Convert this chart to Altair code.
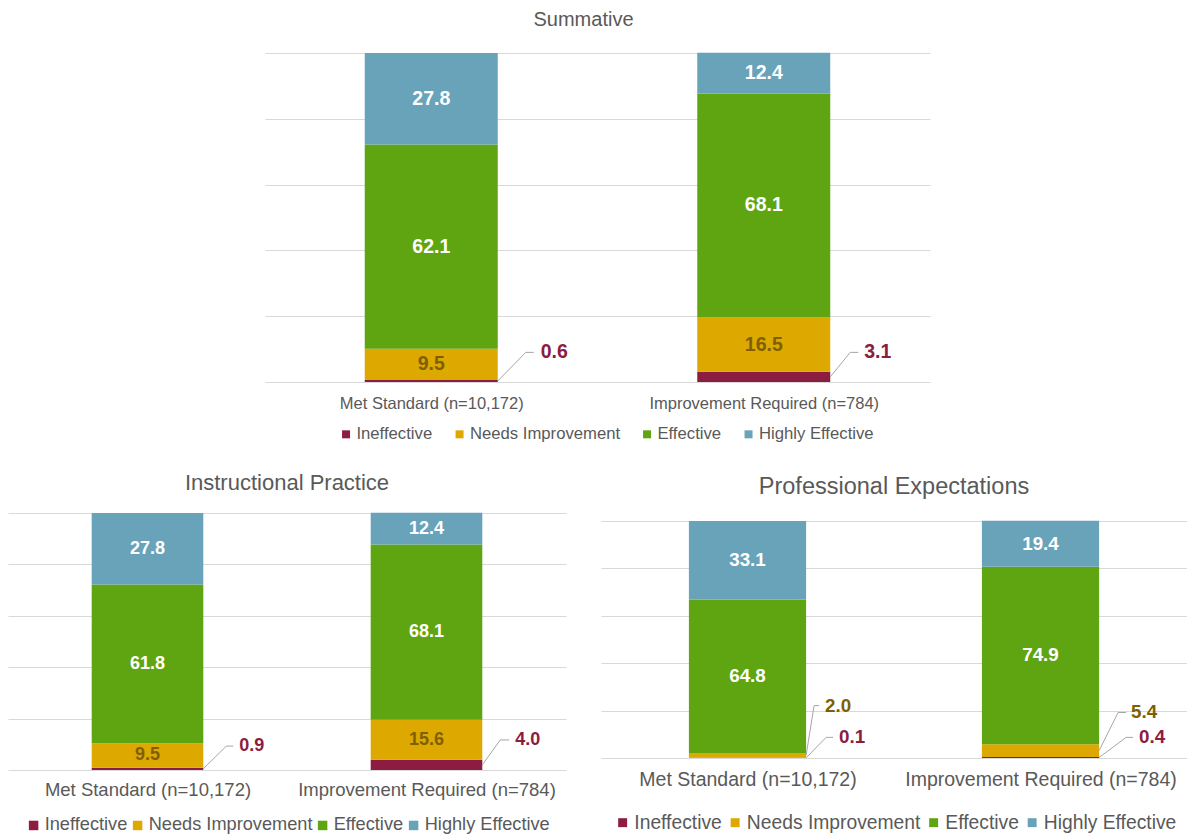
import altair as alt
import pandas as pd

# Rating categories (stack order, bottom to top) and the two teacher groups
LEVELS = ["Ineffective", "Needs Improvement", "Effective", "Highly Effective"]
GROUPS = ["Met Standard (n=10,172)", "Improvement Required (n=784)"]

# Percent of teachers in each rating, per group
SUMMATIVE_MET = [0.6, 9.5, 62.1, 27.8]
SUMMATIVE_IR = [3.1, 16.5, 68.1, 12.4]
INSTRUCTIONAL_MET = [0.9, 9.5, 61.8, 27.8]
INSTRUCTIONAL_IR = [4.0, 15.6, 68.1, 12.4]
PROFESSIONAL_MET = [0.1, 2.0, 64.8, 33.1]
PROFESSIONAL_IR = [0.4, 5.4, 74.9, 19.4]

BAR_COLORS = ["#8C1C40", "#DDA800", "#5FA511", "#68A3BA"]
INSIDE_TEXT = {"Needs Improvement": "#7F6000", "Effective": "#FFFFFF",
               "Highly Effective": "#FFFFFF"}
CALLOUT_TEXT = {"Ineffective": "#8C1C40", "Needs Improvement": "#7F6000"}
GRAY = "#595959"
GRID = "#D9D9D9"
LEADER = "#A6A6A6"
FONT = "Liberation Sans"

# Thin segments get an outside label with a leader line:
# (group index, level, label height in %, elbow px, shelf end px, label start px)
SUMMATIVE_CALLOUTS = [(0, "Ineffective", 9.0, 28, 36, 43),
                      (1, "Ineffective", 9.0, 20, 28, 34)]
INSTRUCTIONAL_CALLOUTS = [(0, "Ineffective", 9.3, 23, 30, 36),
                          (1, "Ineffective", 11.7, 18, 27, 33)]
PROFESSIONAL_CALLOUTS = [(0, "Needs Improvement", 22.1, 8, 13, 19),
                         (0, "Ineffective", 8.7, 20, 27, 33),
                         (1, "Needs Improvement", 19.2, 19, 27, 32),
                         (1, "Ineffective", 8.7, 27, 34, 40)]


def panel(title, met, ir, callouts, w, plot_h, top, st):
    step = w / 2.0  # pixels per group slot on the x scale
    bars, inside, leaders, outside = [], [], [], []
    mids = {}
    for gi, vals in enumerate([met, ir]):
        base = 0.0
        for lvl, v in zip(LEVELS, vals):
            bars.append({"x": gi + 0.3, "x2": gi + 0.7, "y": base, "y2": base + v,
                         "level": lvl})
            mids[(gi, lvl)] = (base + v / 2.0, v)
            base += v
    called = {(c[0], c[1]) for c in callouts}
    for (gi, lvl), (m, v) in mids.items():
        if (gi, lvl) not in called:
            inside.append({"x": gi + 0.5, "y": m, "text": f"{v:.1f}",
                           "fill": INSIDE_TEXT[lvl]})
    for gi, lvl, ly, elbow, shelf, lab in callouts:
        m, v = mids[(gi, lvl)]
        edge = gi + 0.7
        leaders.append({"x": edge, "y": m, "x2": edge + elbow / step, "y2": ly})
        leaders.append({"x": edge + elbow / step, "y": ly,
                        "x2": edge + shelf / step, "y2": ly})
        outside.append({"x": edge + lab / step, "y": ly, "text": f"{v:.1f}",
                        "fill": CALLOUT_TEXT[lvl]})

    h = plot_h + top
    xscale = alt.Scale(domain=[0, 2], nice=False, zero=False)
    yscale = alt.Scale(domain=[0, 100], nice=False, range=[h, top])
    label_expr = f"datum.value < 1 ? '{GROUPS[0]}' : '{GROUPS[1]}'"
    xaxis = alt.Axis(values=[0.5, 1.5], labelExpr=label_expr, grid=False,
                     ticks=False, domain=False, title=None, labelFlush=False,
                     labelLimit=0, labelOverlap=False,
                     labelFont=FONT, labelFontSize=st["axis"], labelColor=GRAY,
                     labelPadding=st["pad"])
    yaxis = alt.Axis(values=[0, 20, 40, 60, 80, 100], labels=False, ticks=False,
                     domain=False, grid=True, gridColor=GRID, gridWidth=1,
                     title=None)

    def X(f):
        return alt.X(f"{f}:Q", scale=xscale, axis=xaxis)

    def Y(f):
        return alt.Y(f"{f}:Q", scale=yscale, axis=yaxis)

    bar_layer = alt.Chart(pd.DataFrame(bars)).mark_bar().encode(
        x=X("x"), x2="x2:Q", y=Y("y"), y2="y2:Q",
        color=alt.Color("level:N", scale=alt.Scale(domain=LEVELS, range=BAR_COLORS),
                        legend=alt.Legend(orient="none", legendX=st["lx"],
                                          legendY=st["ly"], direction="horizontal",
                                          columns=4, title=None, symbolType="square",
                                          symbolSize=st["sym"], symbolStrokeWidth=0,
                                          labelFont=FONT, labelFontSize=st["leg"],
                                          labelColor=GRAY, labelOffset=2, labelLimit=0,
                                          columnPadding=st["cp"], padding=0)),
        order=alt.Order("y:Q"),
    )
    inside_layer = alt.Chart(pd.DataFrame(inside)).mark_text(
        font=FONT, fontWeight="bold", fontSize=st["val"], baseline="middle",
        align="center",
    ).encode(x=X("x"), y=Y("y"), text="text:N", fill=alt.Fill("fill:N", scale=None))
    leader_layer = alt.Chart(pd.DataFrame(leaders)).mark_rule(
        color=LEADER, strokeWidth=1
    ).encode(x=X("x"), x2="x2:Q", y=Y("y"), y2="y2:Q")
    outside_layer = alt.Chart(pd.DataFrame(outside)).mark_text(
        font=FONT, fontWeight="bold", fontSize=st["val"], baseline="middle",
        align="left",
    ).encode(x=X("x"), y=Y("y"), text="text:N", fill=alt.Fill("fill:N", scale=None))

    return alt.layer(bar_layer, leader_layer, inside_layer, outside_layer).properties(
        width=w, height=h,
        title=alt.TitleParams(text=title, font=FONT, fontSize=st["title"],
                              fontWeight="normal", color=GRAY, anchor="middle",
                              baseline="alphabetic", offset=st["toff"], dx=st["tdx"]),
    )


summative = panel(
    "Summative", SUMMATIVE_MET, SUMMATIVE_IR, SUMMATIVE_CALLOUTS, 665, 329, 0,
    dict(title=20, toff=7, tdx=-14, axis=16.5, pad=13, val=19.5, leg=16.7,
         sym=64, lx=72.7, ly=372.5, cp=18.5),
)
instructional = panel(
    "Instructional Practice", INSTRUCTIONAL_MET, INSTRUCTIONAL_IR,
    INSTRUCTIONAL_CALLOUTS, 558, 257, 0,
    dict(title=22, toff=1, tdx=0, axis=18.5, pad=10, val=18, leg=18.2,
         sym=90, lx=16.5, ly=303, cp=1),
)
professional = panel(
    "Professional Expectations", PROFESSIONAL_MET, PROFESSIONAL_IR,
    PROFESSIONAL_CALLOUTS, 586, 237, 8,
    dict(title=23.5, toff=-4, tdx=0, axis=19.5, pad=12, val=18.8, leg=19.3,
         sym=80, lx=12, ly=300, cp=3.5),
)

bottom = alt.hconcat(instructional, professional, spacing=35).resolve_scale(
    color="independent").resolve_legend(color="independent")

chart = alt.vconcat(summative, bottom, spacing=27, center=True).resolve_scale(
    color="independent").resolve_legend(color="independent").configure_view(
    stroke=None).properties(padding={"top": 9, "left": 8, "right": 0, "bottom": 0},
                            background="white")

chart.save("out.html", embed_options={"renderer": "svg", "actions": False})
